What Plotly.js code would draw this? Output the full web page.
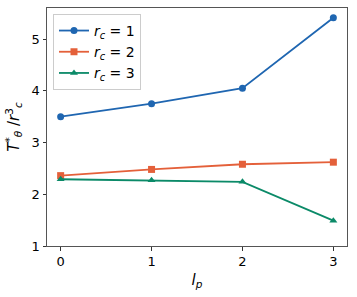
<!DOCTYPE html>
<html>
<head>
<meta charset="utf-8">
<script src="https://cdn.plot.ly/plotly-3.0.1.min.js"></script>
<style>html,body{margin:0;padding:0;background:#fff;}#chart{width:357px;height:297px;}</style>
</head>
<body>
<div id="chart"></div>
<script>
const lp = [0, 1, 2, 3];
const rc1 = [3.50, 3.75, 4.05, 5.41];
const rc2 = [2.36, 2.48, 2.58, 2.62];
const rc3 = [2.29, 2.27, 2.24, 1.49];
const names = ['<i>r</i><sub><i>c</i></sub> = 1', '<i>r</i><sub><i>c</i></sub> = 2', '<i>r</i><sub><i>c</i></sub> = 3'];
const colors = ['#1f66b1', '#e4603a', '#0b8a68'];
const symbols = ['circle', 'square', 'triangle-up'];
const series = [rc1, rc2, rc3];

const traces = series.map((y, i) => ({
  x: lp, y: y, name: names[i], type: 'scatter', mode: 'lines+markers',
  line: {color: colors[i], width: 1.8},
  marker: {color: colors[i], symbol: symbols[i], size: 7}
}));

const axisCommon = {
  showline: true, mirror: true, linecolor: '#555', linewidth: 1,
  ticks: 'outside', ticklen: 3.5, tickcolor: '#333', showgrid: false, zeroline: false,
  tickfont: {family: 'DejaVu Sans', size: 13, color: '#000'}
};

const layout = {
  width: 357, height: 297,
  margin: {l: 47, r: 10, t: 8, b: 51},
  paper_bgcolor: '#fff', plot_bgcolor: '#fff',
  font: {family: 'DejaVu Sans', size: 13, color: '#000'},
  xaxis: Object.assign({}, axisCommon, {
    range: [-0.15, 3.15], tickvals: [0, 1, 2, 3],
    title: {text: '<i>l</i><sub><i>p</i></sub>', font: {size: 15}, standoff: 6}
  }),
  yaxis: Object.assign({}, axisCommon, {
    range: [1, 5.6], tickvals: [1, 2, 3, 4, 5],
    title: {text: '<i>T</i><sup>*</sup><sub><i>θ</i></sub> /<i>r</i><sup>3</sup><sub><i>c</i></sub>', font: {size: 15}, standoff: 8}
  }),
  legend: {
    x: 0.02, y: 0.975, xanchor: 'left', yanchor: 'top',
    bgcolor: 'rgba(255,255,255,0.8)', bordercolor: '#ccc', borderwidth: 1,
    font: {family: 'DejaVu Sans', size: 14}, tracegroupgap: 0
  },
  showlegend: true
};

Plotly.newPlot('chart', traces, layout, {displayModeBar: false, staticPlot: true});
</script>
</body>
</html>
